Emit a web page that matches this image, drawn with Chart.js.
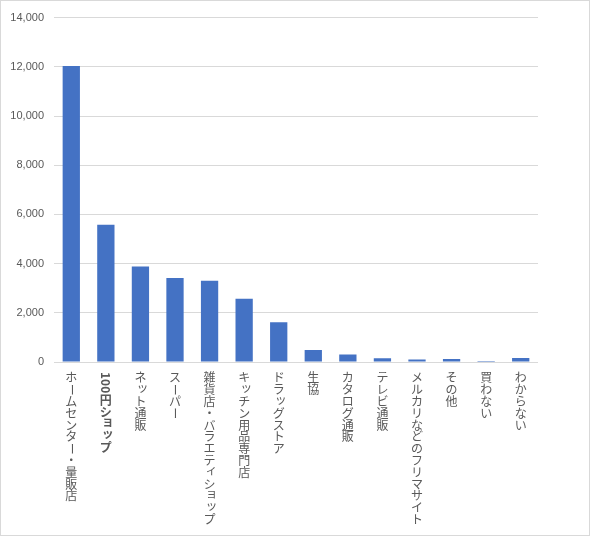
<!doctype html>
<html lang="ja">
  <head>
    <meta charset="utf-8">
    <title>購入場所</title>
    <style>
      * { margin: 0; padding: 0; }
      body { background: #fff; }
      .chartBox {
        width: 590px;
        height: 536px;
        box-sizing: border-box;
        border: 1px solid #d9d9d9;
        background: #fff;
      }
      canvas { display: block; }
    </style>
  </head>
  <body>
    <div class="chartBox">
      <canvas id="myChart" width="588" height="534"></canvas>
    </div>
    <script src="https://cdn.jsdelivr.net/npm/chart.js/dist/chart.umd.min.js"></script>
    <script>
    // data
    const categories = ['ホームセンター・量販店', '100円ショップ', 'ネット通販', 'スーパー',
      '雑貨店・バラエティショップ', 'キッチン用品専門店', 'ドラッグストア', '生協',
      'カタログ通販', 'テレビ通販', 'メルカリなどのフリマサイト', 'その他', '買わない', 'わからない'];
    const counts = [12030, 5580, 3880, 3410, 3300, 2570, 1620, 490, 305, 150, 100, 125, 40, 160];
    const boldLabels = [1];
    const yMax = 14000;
    const yStep = 2000;

    const smallKana = 'ッョィァャュォェゥっょゃゅぁぃぅぇぉ';

    // draws category names top-to-bottom like vertical Japanese text
    const verticalLabels = {
      id: 'verticalLabels',
      afterDraw(chart) {
        const {ctx, scales: {x}} = chart;
        const step = 11.8;
        ctx.save();
        ctx.fillStyle = '#595959';
        ctx.textAlign = 'center';
        ctx.textBaseline = 'middle';
        chart.data.labels.forEach((label, i) => {
          const cx = x.getPixelForTick(i);
          const weight = boldLabels.includes(i) ? 'bold ' : '';
          ctx.font = weight + '12px "Noto Sans CJK JP"';
          let y = x.top + 10;
          const parts = label.match(/[0-9A-Za-z]+|./g);
          parts.forEach(p => {
            if (/^[0-9A-Za-z]+$/.test(p) || p === 'ー') {
              const w = p === 'ー' ? step : ctx.measureText(p).width;
              ctx.save();
              ctx.translate(cx, y + w / 2);
              ctx.rotate(Math.PI / 2);
              ctx.fillText(p, 0, 0);
              ctx.restore();
              y += w + (p === 'ー' ? 0 : 1);
            } else if (smallKana.includes(p)) {
              ctx.fillText(p, cx + 2, y + step / 2 - 2);
              y += step;
            } else {
              ctx.fillText(p, cx, y + step / 2);
              y += step;
            }
          });
        });
        ctx.restore();
      }
    };

    const data = {
      labels: categories,
      datasets: [{
        data: counts,
        backgroundColor: '#4472C4',
        categoryPercentage: 1,
        barPercentage: 0.5
      }]
    };

    const config = {
      type: 'bar',
      data,
      options: {
        responsive: false,
        animation: false,
        layout: { padding: { top: 14, right: 51, left: 0, bottom: 0 } },
        plugins: {
          legend: { display: false },
          tooltip: { enabled: false }
        },
        scales: {
          x: {
            grid: { display: false },
            border: { display: false },
            ticks: { display: false },
            afterFit(scale) { scale.height = 173; }
          },
          y: {
            min: 0,
            max: yMax,
            grid: { color: '#d9d9d9', drawTicks: false },
            border: { display: false },
            ticks: {
              stepSize: yStep,
              padding: 10,
              color: '#595959',
              font: { family: '"Liberation Sans", Arial, sans-serif', size: 11 },
              callback: v => v.toLocaleString('en-US')
            },
            afterFit(scale) { scale.width = 53; }
          }
        }
      },
      plugins: [verticalLabels]
    };

    const myChart = new Chart(document.getElementById('myChart'), config);
    </script>
  </body>
</html>
